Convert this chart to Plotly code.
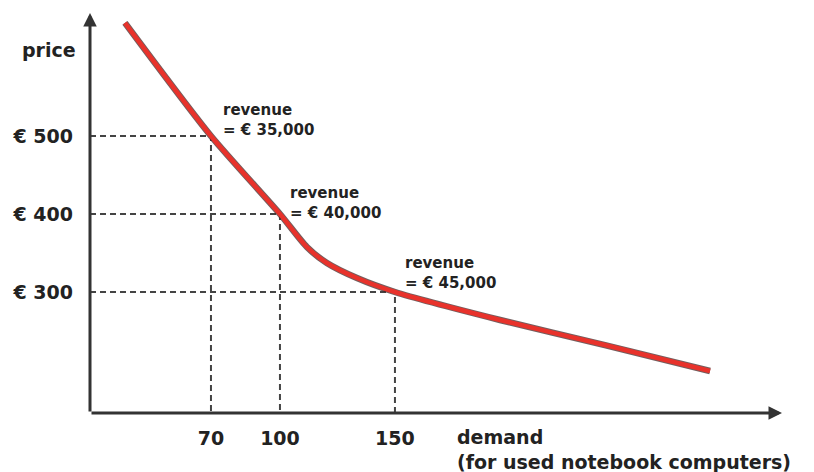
import plotly.graph_objects as go

# ---- data ----
demand_marks = [70, 100, 150]
price_marks = [500, 400, 300]
price_tick_labels = ["€ 500", "€ 400", "€ 300"]
revenue_labels = ["revenue<br>= € 35,000", "revenue<br>= € 40,000", "revenue<br>= € 45,000"]
curve_demand = [32.6, 70, 100, 111.7, 120.4, 133.5, 150, 195.7, 241.3, 287]
curve_price = [645, 500, 400, 357.7, 337.2, 317.9, 300, 264.1, 232, 198.7]

X_MIN, X_MAX = 17.4, 318.3
Y_MIN, Y_MAX = 144.9, 657.7

FONT = "DejaVu Sans"
AXIS_COL = "#333333"
DASH_COL = "#444444"
TXT_COL = "#222222"
RED = "#e8322b"

W, H = 814, 472
L, R, T, B = 90, 32, 13, 59
pw, ph = W - L - R, H - T - B


def px_to_paper(px, py):
    return (px - L) / pw, 1 - (py - T) / ph


fig = go.Figure()

# dashed guide lines
for dx, py in zip(demand_marks, price_marks):
    fig.add_trace(go.Scatter(
        x=[X_MIN, dx, dx], y=[py, py, Y_MIN], mode="lines",
        line=dict(color=DASH_COL, width=2, dash="6px,4px"),
        hoverinfo="skip", showlegend=False, cliponaxis=False))

# demand curve: dark edge + red core
fig.add_trace(go.Scatter(x=curve_demand, y=curve_price, mode="lines",
                         line=dict(color="rgba(70,40,40,0.75)", width=6.5, shape="spline", smoothing=0.7),
                         hoverinfo="skip", showlegend=False))
fig.add_trace(go.Scatter(x=curve_demand, y=curve_price, mode="lines",
                         line=dict(color=RED, width=4.5, shape="spline", smoothing=0.7),
                         hoverinfo="skip", showlegend=False))

# revenue labels
shifts = [(10, -5), (8, -10), (8, -2)]
for dx, py, txt, (xs, ys) in zip(demand_marks, price_marks, revenue_labels, shifts):
    fig.add_annotation(x=dx, y=py, text=txt, showarrow=False, xanchor="left", yanchor="bottom",
                       align="left", xshift=xs, yshift=ys,
                       font=dict(family=FONT, size=15, color=TXT_COL, weight="bold"))

# axis arrows
fig.add_annotation(x=X_MAX, y=Y_MIN, ax=X_MIN, ay=Y_MIN, axref="x", ayref="y", xref="x", yref="y",
                   text="", showarrow=True, arrowhead=2, arrowsize=0.9, arrowwidth=3, arrowcolor=AXIS_COL)
fig.add_annotation(x=X_MIN, y=Y_MAX, ax=X_MIN, ay=Y_MIN, axref="x", ayref="y", xref="x", yref="y",
                   text="", showarrow=True, arrowhead=2, arrowsize=0.9, arrowwidth=3, arrowcolor=AXIS_COL)

# axis titles
px_, py_ = px_to_paper(78, 50)
fig.add_annotation(x=px_, y=py_, xref="paper", yref="paper", text="price", showarrow=False,
                   xanchor="right", yanchor="middle",
                   font=dict(family=FONT, size=19, color=TXT_COL, weight="bold"))
px_, py_ = px_to_paper(455, 424)
fig.add_annotation(x=px_, y=py_, xref="paper", yref="paper",
                   text="demand<br>(for used notebook computers)", showarrow=False,
                   xanchor="left", yanchor="top", align="left",
                   font=dict(family=FONT, size=19, color=TXT_COL, weight="bold"))

fig.update_layout(
    width=W, height=H, margin=dict(l=L, r=R, t=T, b=B, autoexpand=False),
    paper_bgcolor="white", plot_bgcolor="white",
    xaxis=dict(range=[X_MIN, X_MAX], showgrid=False, zeroline=False, showline=False,
               tickvals=demand_marks, ticktext=[str(v) for v in demand_marks],
               ticks="", ticklabelstandoff=12, automargin=False,
               tickfont=dict(family=FONT, size=19, color=TXT_COL, weight="bold")),
    yaxis=dict(range=[Y_MIN, Y_MAX], showgrid=False, zeroline=False, showline=False,
               tickvals=price_marks, ticktext=price_tick_labels,
               ticks="", ticklabelstandoff=16, automargin=False,
               tickfont=dict(family=FONT, size=19, color=TXT_COL, weight="bold")),
)

fig.write_html("out.html", config={"displayModeBar": False},
               post_script="document.body.style.margin='0';document.body.style.overflow='hidden';")
